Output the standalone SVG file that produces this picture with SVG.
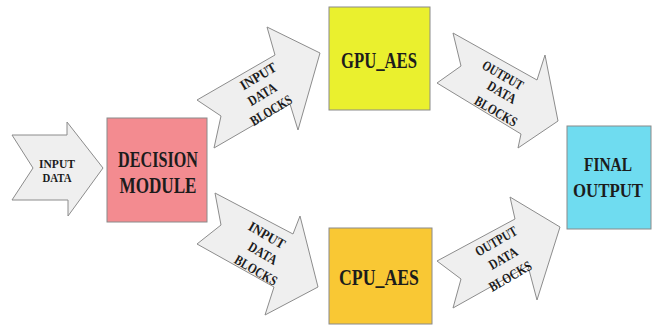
<svg xmlns="http://www.w3.org/2000/svg" width="652" height="328" viewBox="0 0 652 328">
<style>
.arrow{fill:#efefef;stroke:#8c8c8c;stroke-width:1}
.box{stroke:#8a8a8a;stroke-width:1}
.t{font-family:'Liberation Serif','DejaVu Serif','Times New Roman',serif;font-weight:bold;fill:#1c1c1c;text-anchor:middle}
.big{font-size:23px}
.mid{font-size:18px}
.sm{font-size:14px}
.xs{font-size:12px}
</style>
<rect width="652" height="328" fill="#ffffff"/>
<g id="connectors">
  <g id="arrow-input">
    <polygon class="arrow" points="12,135 67,135 67,122 103,168 68,216 68,200 12,200 33,168"/>
    <text class="t xs" x="57" y="168" textLength="36" lengthAdjust="spacingAndGlyphs">INPUT</text>
    <text class="t xs" x="57" y="182" textLength="29" lengthAdjust="spacingAndGlyphs">DATA</text>
  </g>
  <g id="arrow-to-gpu">
    <polygon class="arrow" points="197,100 275,55 267,27 320,53 298,130 290,104 214,148 221,116"/>
    <text class="t sm" transform="translate(258,76) rotate(-31)" y="5" textLength="40" lengthAdjust="spacingAndGlyphs">INPUT</text>
    <text class="t sm" transform="translate(262,94) rotate(-31)" y="5" textLength="31" lengthAdjust="spacingAndGlyphs">DATA</text>
    <text class="t sm" transform="translate(271,110) rotate(-31)" y="5" textLength="46" lengthAdjust="spacingAndGlyphs">BLOCKS</text>
  </g>
  <g id="arrow-to-cpu">
    <polygon class="arrow" points="215,193 293,234 300,216 318,287 265,315 274,287 197,244 221,225"/>
    <text class="t sm" transform="translate(267,235) rotate(30)" y="5" textLength="40" lengthAdjust="spacingAndGlyphs">INPUT</text>
    <text class="t sm" transform="translate(263,253) rotate(30)" y="5" textLength="31" lengthAdjust="spacingAndGlyphs">DATA</text>
    <text class="t sm" transform="translate(256,270) rotate(30)" y="5" textLength="47" lengthAdjust="spacingAndGlyphs">BLOCKS</text>
  </g>
  <g id="arrow-gpu-out">
    <polygon class="arrow" points="453,33 537,80 545,55 558,121 518,148 521,134 437,83 461,66"/>
    <text class="t sm" transform="translate(503,75) rotate(30)" y="5" textLength="45" lengthAdjust="spacingAndGlyphs">OUTPUT</text>
    <text class="t sm" transform="translate(502,92) rotate(30)" y="5" textLength="31" lengthAdjust="spacingAndGlyphs">DATA</text>
    <text class="t sm" transform="translate(496,111) rotate(30)" y="5" textLength="47" lengthAdjust="spacingAndGlyphs">BLOCKS</text>
  </g>
  <g id="arrow-cpu-out">
    <polygon class="arrow" points="437,261 515,219 510,197 560,227 537,300 528,266 453,308 461,279"/>
    <text class="t sm" transform="translate(496,241) rotate(-30)" y="5" textLength="46" lengthAdjust="spacingAndGlyphs">OUTPUT</text>
    <text class="t sm" transform="translate(503,258) rotate(-30)" y="5" textLength="31" lengthAdjust="spacingAndGlyphs">DATA</text>
    <text class="t sm" transform="translate(510,276) rotate(-30)" y="5" textLength="47" lengthAdjust="spacingAndGlyphs">BLOCKS</text>
  </g>
</g>
<g id="decision">
  <rect class="box" x="107" y="118" width="100" height="104" fill="#f38b90"/>
  <text class="t big" x="158" y="167" textLength="80" lengthAdjust="spacingAndGlyphs">DECISION</text>
  <text class="t big" x="158" y="193" textLength="77" lengthAdjust="spacingAndGlyphs">MODULE</text>
</g>
<g id="gpu">
  <rect class="box" x="329" y="7" width="101" height="103" fill="#eaf02e"/>
  <text class="t big" x="379" y="68" textLength="76" lengthAdjust="spacingAndGlyphs">GPU_AES</text>
</g>
<g id="cpu">
  <rect class="box" x="329" y="228" width="103" height="96" fill="#f9c834"/>
  <text class="t big" x="379" y="285" textLength="80" lengthAdjust="spacingAndGlyphs">CPU_AES</text>
</g>
<g id="final">
  <rect class="box" x="567" y="126" width="84" height="103" fill="#6fdcf0"/>
  <text class="t mid" x="608" y="171" textLength="48" lengthAdjust="spacingAndGlyphs">FINAL</text>
  <text class="t mid" x="608" y="197" textLength="70" lengthAdjust="spacingAndGlyphs">OUTPUT</text>
</g>
</svg>
